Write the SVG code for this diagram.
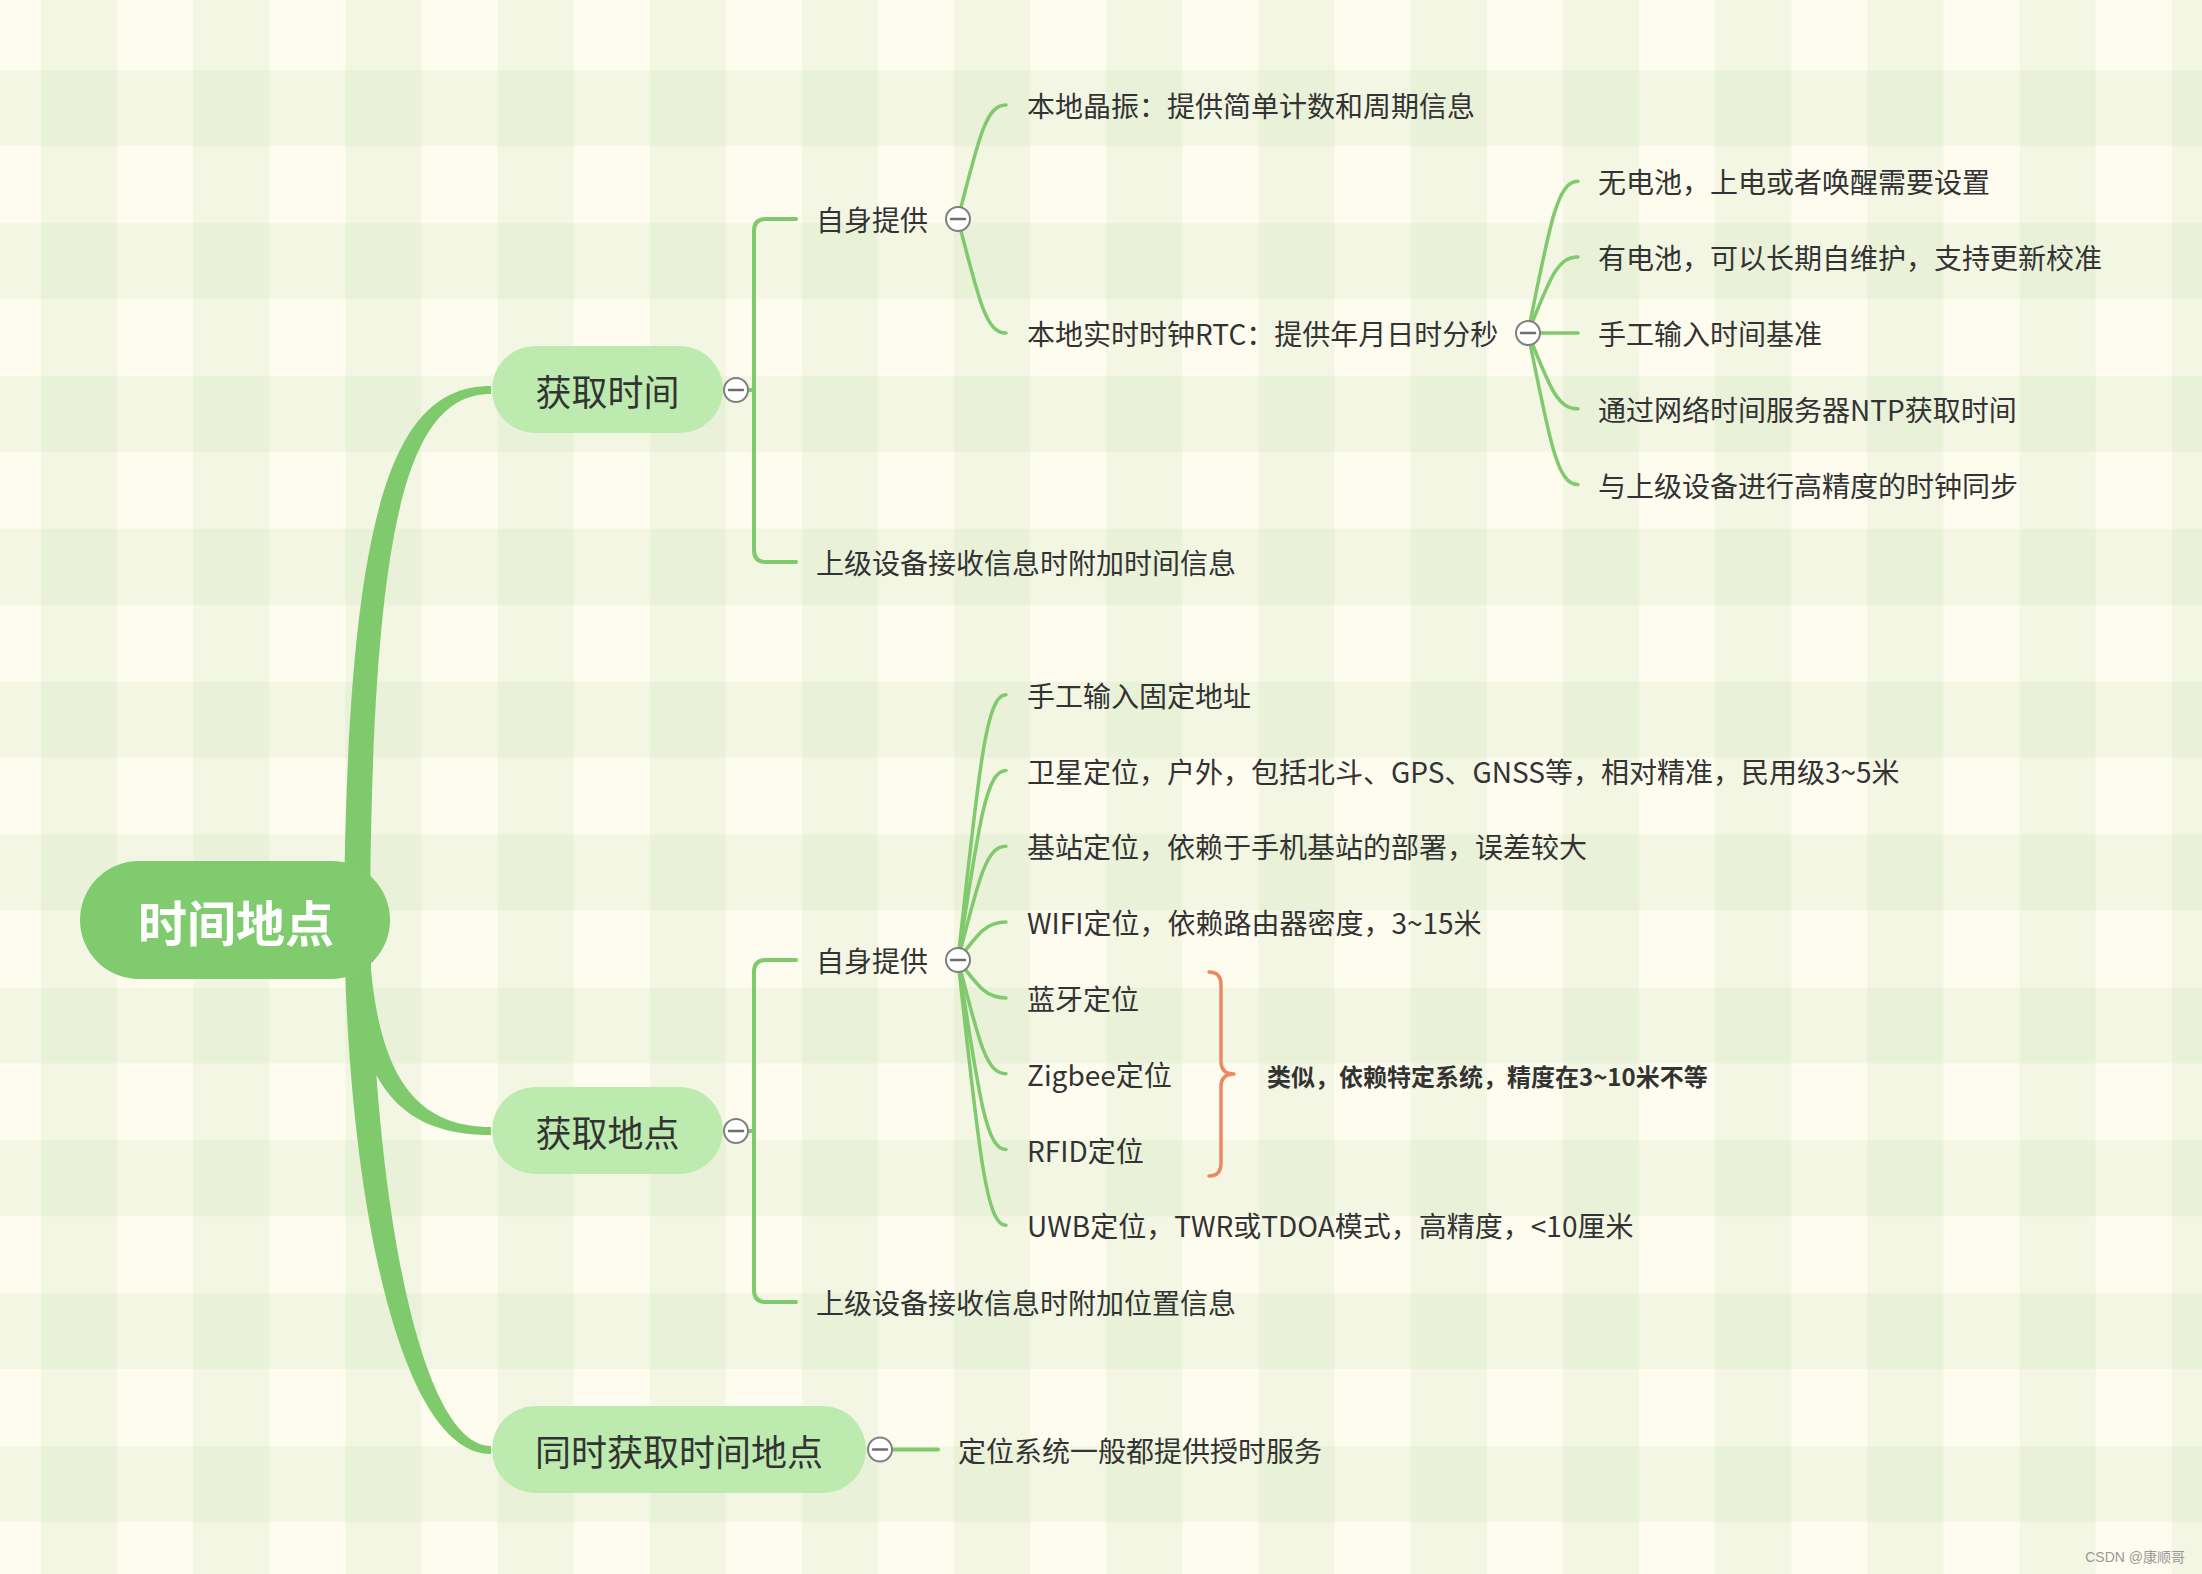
<svg xmlns="http://www.w3.org/2000/svg" width="2202" height="1574" viewBox="0 0 2202 1574">
<style>
.t{font-family:"Noto Sans CJK SC","Noto Sans",sans-serif;fill:#333;dominant-baseline:central}
.sub{font-size:28px}
.main{font-size:36px;text-anchor:middle}
.root{font-size:49px;font-weight:bold;fill:#fff;text-anchor:middle}
.note{font-size:24px;font-weight:bold}
.ln{fill:none;stroke:#7fca6c;stroke-width:3.5;stroke-linecap:round}
.br{fill:none;stroke:#7fca6c;stroke-width:4;stroke-linecap:round}
.thick{fill:#7fca6c}
.col{fill:#fff;stroke:#808080;stroke-width:2}
.minus{stroke:#6e6e6e;stroke-width:2.5;stroke-linecap:round}
.mnode{fill:#bdeaaf}
</style>
<defs>
<pattern id="bgx" x="0" y="0" width="152.2" height="1574" patternUnits="userSpaceOnUse">
<rect x="41" y="0" width="76" height="1574" fill="rgb(150,195,134)" fill-opacity="0.106"/>
</pattern>
<pattern id="bgy" x="0" y="0" width="2202" height="152.9" patternUnits="userSpaceOnUse">
<rect x="0" y="70" width="2202" height="76" fill="rgb(150,195,134)" fill-opacity="0.106"/>
</pattern>
<g id="collapse">
<circle class="col" cx="0" cy="0" r="12"/>
<line class="minus" x1="-7" y1="0" x2="7" y2="0"/>
</g>
</defs>
<g id="background">
<rect x="0" y="0" width="2202" height="1574" fill="#fefcee"/>
<rect x="0" y="0" width="2202" height="1574" fill="url(#bgx)"/>
<rect x="0" y="0" width="2202" height="1574" fill="url(#bgy)"/>
</g>
<g id="connectors">
<path class="thick" d="M344 920 C347 500 395 386 491 386 L491 394 C408 394 372 520 370 920 Z"/>
<path class="thick" d="M346 920 C350 1080 395 1135 491 1135 L491 1127 C405 1127 372 1060 368 920 Z"/>
<path class="thick" d="M344 920 C347 1200 400 1454 491 1454 L491 1446 C420 1446 373 1200 370 920 Z"/>
<path class="br" d="M736 390 H754 M796 219 H766 Q754 219 754 231 V550 Q754 562 766 562 H796"/>
<path class="br" d="M736 1131 H754 M796 960 H766 Q754 960 754 972 V1290 Q754 1302 766 1302 H796"/>
<path class="br" d="M880 1449.5 H938"/>
<path class="ln" d="M958 219 C979.6 133.5 986.8 105 1006 105"/>
<path class="ln" d="M958 219 C979.6 304.5 986.8 333 1006 333"/>
<path class="ln" d="M1528 333 C1550.5 219.2 1558 181.2 1578 181.2"/>
<path class="ln" d="M1528 333 C1550.5 276 1558 257 1578 257"/>
<path class="ln" d="M1528 333 H1578"/>
<path class="ln" d="M1528 333 C1550.5 389.9 1558 408.8 1578 408.8"/>
<path class="ln" d="M1528 333 C1550.5 446.7 1558 484.6 1578 484.6"/>
<path class="ln" d="M958 960 C979.6 761 986.8 694.7 1006 694.7"/>
<path class="ln" d="M958 960 C979.6 817.9 986.8 770.5 1006 770.5"/>
<path class="ln" d="M958 960 C979.6 874.7 986.8 846.3 1006 846.3"/>
<path class="ln" d="M958 960 C979.6 931.6 986.8 922.1 1006 922.1"/>
<path class="ln" d="M958 960 C979.6 988.4 986.8 997.9 1006 997.9"/>
<path class="ln" d="M958 960 C979.6 1045.3 986.8 1073.7 1006 1073.7"/>
<path class="ln" d="M958 960 C979.6 1102.1 986.8 1149.5 1006 1149.5"/>
<path class="ln" d="M958 960 C979.6 1159 986.8 1225.3 1006 1225.3"/>
</g>
<g id="root">
<rect x="80" y="861" width="310" height="118" rx="59" fill="#80cb6e"/>
<text class="t root" x="236" y="920">时间地点</text>
</g>
<g id="n-time">
<rect class="mnode" x="492" y="346" width="231" height="87" rx="43.5"/>
<text class="t main" x="607.5" y="390">获取时间</text>
<use href="#collapse" x="736" y="390"/>
</g>
<g id="n-time-self">
<text class="t sub" x="816" y="219">自身提供</text>
<use href="#collapse" x="958" y="219"/>
</g>
<g id="n-crystal"><text class="t sub" x="1027" y="105">本地晶振：提供简单计数和周期信息</text></g>
<g id="n-rtc">
<text class="t sub" x="1027" y="333">本地实时时钟RTC：提供年月日时分秒</text>
<use href="#collapse" x="1528" y="333"/>
</g>
<g id="n-rtc1"><text class="t sub" x="1598" y="181.2">无电池，上电或者唤醒需要设置</text></g>
<g id="n-rtc2"><text class="t sub" x="1598" y="257">有电池，可以长期自维护，支持更新校准</text></g>
<g id="n-rtc3"><text class="t sub" x="1598" y="333">手工输入时间基准</text></g>
<g id="n-rtc4"><text class="t sub" x="1598" y="408.8">通过网络时间服务器NTP获取时间</text></g>
<g id="n-rtc5"><text class="t sub" x="1598" y="484.6">与上级设备进行高精度的时钟同步</text></g>
<g id="n-time-upper"><text class="t sub" x="816" y="562">上级设备接收信息时附加时间信息</text></g>
<g id="n-loc">
<rect class="mnode" x="492" y="1087" width="231" height="87" rx="43.5"/>
<text class="t main" x="607.5" y="1131">获取地点</text>
<use href="#collapse" x="736" y="1131"/>
</g>
<g id="n-loc-self">
<text class="t sub" x="816" y="960">自身提供</text>
<use href="#collapse" x="958" y="960"/>
</g>
<g id="n-loc1"><text class="t sub" x="1027" y="694.7">手工输入固定地址</text></g>
<g id="n-loc2"><text class="t sub" x="1027" y="770.5">卫星定位，户外，包括北斗、GPS、GNSS等，相对精准，民用级3~5米</text></g>
<g id="n-loc3"><text class="t sub" x="1027" y="846.3">基站定位，依赖于手机基站的部署，误差较大</text></g>
<g id="n-loc4"><text class="t sub" x="1027" y="922.1">WIFI定位，依赖路由器密度，3~15米</text></g>
<g id="n-loc5"><text class="t sub" x="1027" y="997.9">蓝牙定位</text></g>
<g id="n-loc6"><text class="t sub" x="1027" y="1073.7">Zigbee定位</text></g>
<g id="n-loc7"><text class="t sub" x="1027" y="1149.5">RFID定位</text></g>
<g id="n-loc8"><text class="t sub" x="1027" y="1225.3">UWB定位，TWR或TDOA模式，高精度，&lt;10厘米</text></g>
<g id="n-loc-upper"><text class="t sub" x="816" y="1302">上级设备接收信息时附加位置信息</text></g>
<g id="brace-note">
<path d="M1209 972 Q1221 972 1221 985 V1061 Q1221 1074 1234 1074 Q1221 1074 1221 1087 V1163 Q1221 1176 1209 1176" fill="none" stroke="#ef8760" stroke-width="3.5" stroke-linecap="round" stroke-linejoin="round"/>
<text class="t note" x="1267" y="1075">类似，依赖特定系统，精度在3~10米不等</text>
</g>
<g id="n-both">
<rect class="mnode" x="492" y="1406" width="374" height="87" rx="43.5"/>
<text class="t main" x="679" y="1449.5">同时获取时间地点</text>
<use href="#collapse" x="880" y="1449.5"/>
</g>
<g id="n-both1"><text class="t sub" x="958" y="1449.5">定位系统一般都提供授时服务</text></g>
<text x="2185" y="1562" text-anchor="end" font-family="Liberation Sans,Noto Sans CJK SC,sans-serif" font-size="14" fill="#999">CSDN @康顺哥</text>
</svg>
